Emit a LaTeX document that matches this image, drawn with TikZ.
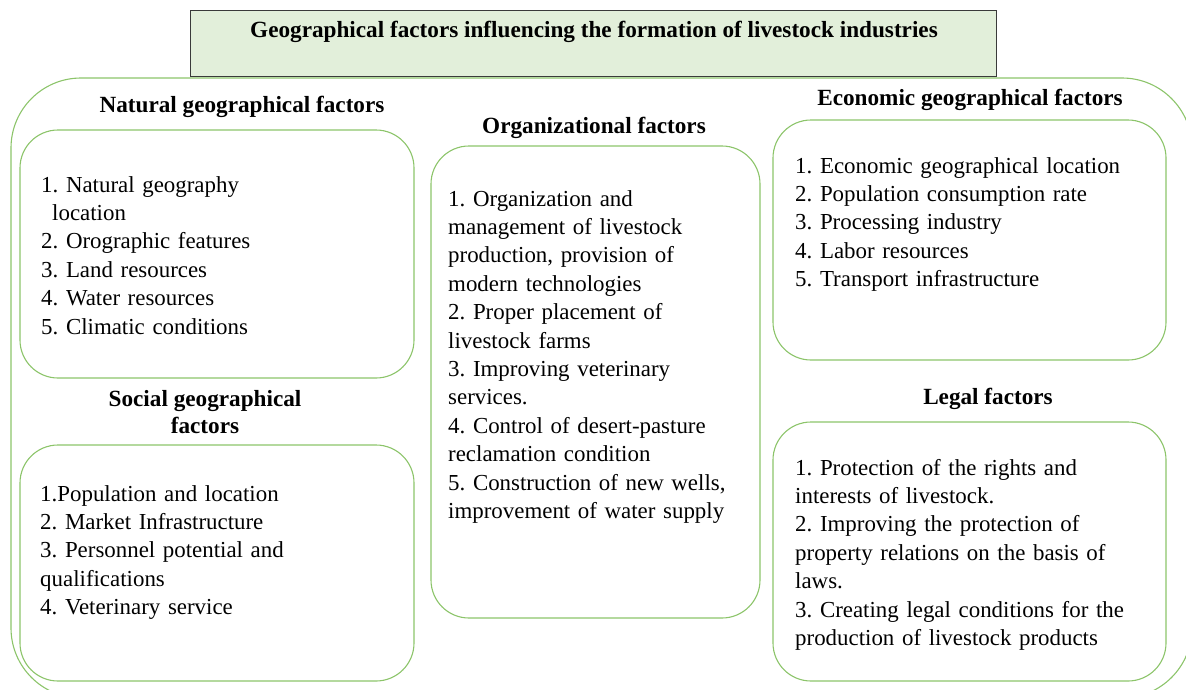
\documentclass[tikz,border=0pt]{standalone}
\usepackage{fontspec}
\setmainfont{Liberation Serif}
\frenchspacing
\definecolor{framegreen}{HTML}{8CC46A}
\definecolor{titlefill}{HTML}{E2EFDA}
\definecolor{titleline}{HTML}{3A3A3A}
\begin{document}
\begin{tikzpicture}[x=1pt,y=-1pt,
  every node/.style={inner sep=0pt, font=\fontsize{22.9}{28.4}\selectfont},
  groupbox/.style={draw=framegreen, line width=1.1pt, rounded corners=38pt},
  heading/.style={font=\fontsize{23.2}{26.5}\selectfont\bfseries, align=center, anchor=base},
  listtext/.style={anchor=base west, text width=#1, align=left},
  listtext/.default=330pt]
\useasboundingbox (0,0) rectangle (1186,689);
\clip (0,0) rectangle (1186,689);
% outer frame around all factor groups
\draw[draw=framegreen, line width=1.1pt, rounded corners=70pt] (11,78) rectangle (1192,698);
% title
\node[draw=titleline, fill=titlefill, line width=1.2pt, minimum width=806pt, minimum height=66pt, anchor=north west] (title) at (190,10) {};
\node[heading] (titletext) at (594,37) {Geographical factors influencing the formation of livestock industries};
% factor boxes
\draw[groupbox] (20,130) rectangle (414,378);
\draw[groupbox] (20,445) rectangle (414,681);
\draw[groupbox] (431,146) rectangle (760,618);
\draw[groupbox] (773,120) rectangle (1166,360);
\draw[groupbox] (773,422) rectangle (1166,681);
% headings (a two-line heading sits on the baseline of its last line)
\node[heading] (hnat) at (242,112) {Natural geographical factors};
\node[heading] (hsoc) at (205,433) {Social geographical\\factors};
\node[heading] (horg) at (594,133) {Organizational factors};
\node[heading] (heco) at (970,105) {Economic geographical factors};
\node[heading] (hleg) at (988,404) {Legal factors};
% lists
\node[listtext] (lnat) at (41,192) {1. Natural geography\\\hspace*{11pt}location\\2. Orographic features\\3. Land resources\\4. Water resources\\5. Climatic conditions};
\node[listtext] (lsoc) at (40,501) {1.Population and location\\2. Market Infrastructure\\3. Personnel potential and\\qualifications\\4. Veterinary service};
\node[listtext=300pt] (lorg) at (448,206) {1. Organization and\\management of livestock\\production, provision of\\modern technologies\\2. Proper placement of\\livestock farms\\3. Improving veterinary\\services.\\4. Control of desert-pasture\\reclamation condition\\5. Construction of new wells,\\improvement of water supply};
\node[listtext=360pt] (leco) at (795,173) {1. Economic geographical location\\2. Population consumption rate\\3. Processing industry\\4. Labor resources\\5. Transport infrastructure};
\node[listtext=360pt] (lleg) at (795,475) {1. Protection of the rights and\\interests of livestock.\\2. Improving the protection of\\property relations on the basis of\\laws.\\3. Creating legal conditions for the\\production of livestock products};
\end{tikzpicture}
\end{document}
